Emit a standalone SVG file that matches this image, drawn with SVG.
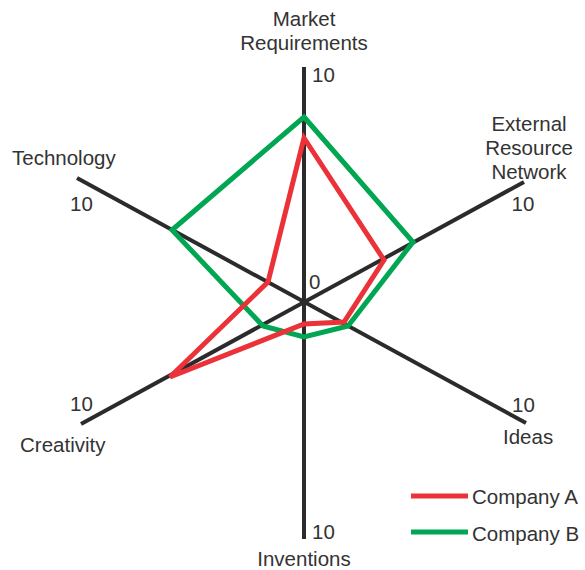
<svg xmlns="http://www.w3.org/2000/svg" width="585" height="570" viewBox="0 0 585 570">
<style>
text{font-family:"Liberation Sans",Arial,sans-serif;font-size:20.5px;fill:#333}
.ax{stroke:#2b2b2b;stroke-width:4;fill:none;stroke-linecap:butt}
.a{stroke:#ea3238;stroke-width:5;fill:none;stroke-linejoin:miter}
.b{stroke:#00a651;stroke-width:5;fill:none;stroke-linejoin:miter}
.m{text-anchor:middle}
</style>
<rect width="585" height="570" fill="#fff"/>
<g id="axes">
<line class="ax" x1="304" y1="67" x2="304" y2="539"/>
<line class="ax" x1="77" y1="178" x2="526" y2="423"/>
<line class="ax" x1="81" y1="424" x2="524" y2="182"/>
</g>
<g id="series">
<polygon id="companyB" class="b" points="304,117 413,242 348,326 304,337 263,326 172,230"/>
<polygon id="companyA" class="a" points="304,138 384,260 344,322 304,324 170,377 268,282"/>
</g>
<g id="labels">
<g id="market"><text class="m" x="304" y="26">Market</text><text class="m" x="304" y="50">Requirements</text><text x="312" y="82">10</text></g>
<g id="external"><text class="m" x="529" y="131">External</text><text class="m" x="529" y="155">Resource</text><text class="m" x="529" y="179">Network</text><text class="m" x="523" y="211">10</text></g>
<g id="technology"><text x="12" y="165">Technology</text><text x="70" y="211">10</text></g>
<g id="creativity"><text x="70" y="411">10</text><text x="20" y="452">Creativity</text></g>
<g id="ideas"><text x="512" y="412">10</text><text x="503" y="444">Ideas</text></g>
<g id="inventions"><text x="312" y="539">10</text><text class="m" x="304" y="566">Inventions</text></g>
<text x="309" y="289">0</text>
</g>
<g id="legend">
<line class="a" x1="411" y1="496" x2="468" y2="496"/>
<text x="472" y="504">Company A</text>
<line class="b" x1="411" y1="532" x2="468" y2="532"/>
<text x="472" y="541">Company B</text>
</g>
</svg>
